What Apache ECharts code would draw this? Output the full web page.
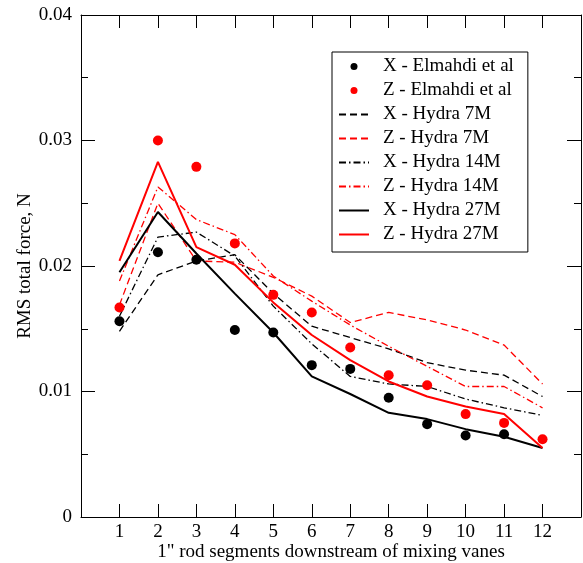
<!DOCTYPE html>
<html>
<head>
<meta charset="utf-8">
<script src="https://cdn.jsdelivr.net/npm/echarts@6/dist/echarts.min.js"></script>
<style>
html,body{margin:0;padding:0;background:#fff;}
#chart{width:583px;height:563px;}
</style>
</head>
<body>
<div id="chart"></div>
<script>
// Segment positions (1" rod segments downstream of mixing vanes)
var segments = [1,2,3,4,5,6,7,8,9,10,11,12];
// Experimental data (Elmahdi et al)
var xElmahdi = [0.0156,0.0211,0.0205,0.0149,0.0147,0.0121,0.0118,0.0095,0.0074,0.0065,0.0066,null];
var zElmahdi = [0.0167,0.0300,0.0279,0.0218,0.0177,0.0163,0.0135,0.0113,0.0105,0.0082,0.0075,0.0062];
// Hydra simulations
var xHydra7M  = [0.0148,0.0193,0.0204,0.0209,0.0178,0.0152,0.0143,0.0134,0.0123,0.0117,0.0113,0.0096];
var zHydra7M  = [0.0169,0.0250,0.0204,0.0203,0.0191,0.0176,0.0155,0.0163,0.0157,0.0149,0.0137,0.0106];
var xHydra14M = [0.0160,0.0223,0.0227,0.0208,0.0168,0.0138,0.0112,0.0106,0.0104,0.0094,0.0087,0.0081];
var zHydra14M = [0.0188,0.0263,0.0237,0.0225,0.0192,0.0172,0.0153,0.0136,0.0120,0.0104,0.0104,0.0087];
var xHydra27M = [0.0195,0.0243,0.0210,0.0178,0.0147,0.0112,0.0098,0.0083,0.0078,0.0070,0.0064,0.0055];
var zHydra27M = [0.0204,0.0283,0.0215,0.0201,0.0171,0.0145,0.0125,0.0108,0.0096,0.0088,0.0082,0.0055];
var yTicks = [0, 0.01, 0.02, 0.03, 0.04];
var legendNames = ['X - Elmahdi et al','Z - Elmahdi et al','X - Hydra 7M','Z - Hydra 7M',
                   'X - Hydra 14M','Z - Hydra 14M','X - Hydra 27M','Z - Hydra 27M'];

function pairs(vals){ return segments.map(function(s,i){ return [s, vals[i]]; }); }

var FONT = "'Liberation Serif','Times New Roman',serif";
var FS = 19;
var chart = echarts.init(document.getElementById('chart'), null, {renderer:'canvas'});

function lineSeries(name, vals, color, type, width){
  return {name:name, type:'line', data:pairs(vals), symbol:'none', showSymbol:false,
    xAxisIndex:0, yAxisIndex:0,
    lineStyle:{color:color, width:width, type:type}, itemStyle:{color:color},
    emphasis:{disabled:true}, animation:false, z:2};
}
function dotSeries(name, vals, color){
  return {name:name, type:'scatter', data:pairs(vals).filter(function(p){return p[1]!=null;}),
    symbol:'circle', symbolSize:10, itemStyle:{color:color, opacity:1},
    xAxisIndex:0, yAxisIndex:0, emphasis:{disabled:true}, animation:false, z:3};
}
var dash = [7,4];
var dashDot = [7,3,1.5,3];

function xAxisCfg(pos, main){
  var a = {type:'value', min:0, max:13, interval:1, position:pos,
    axisLine:{show:true, onZero:false, lineStyle:{color:'#000', width:1}},
    axisTick:{show:true, inside:true, length:13, lineStyle:{color:'#000'}},
    axisLabel:{show:main, color:'#000', fontFamily:FONT, fontSize:FS, margin:6,
      formatter:function(v){ return (v>=1 && v<=12) ? String(v) : ''; }},
    splitLine:{show:false}};
  if(main){
    a.name = '1" rod segments downstream of mixing vanes';
    a.nameLocation = 'middle'; a.nameGap = 26; a.nameMoveOverlap = false;
    a.nameTextStyle = {color:'#000', fontFamily:FONT, fontSize:FS};
  }
  return a;
}
function yAxisCfg(pos, main){
  var a = {type:'value', min:0, max:0.04, interval:0.01, position:pos,
    axisLine:{show:true, onZero:false, lineStyle:{color:'#000', width:1}},
    axisTick:{show:true, inside:true, length:14, lineStyle:{color:'#000'}},
    minorTick:{show:true, splitNumber:2, length:7, lineStyle:{color:'#000'}},
    axisLabel:{show:main, color:'#000', fontFamily:FONT, fontSize:FS, margin:9,
      formatter:function(v){ for(var i=0;i<yTicks.length;i++){ if(Math.abs(v-yTicks[i])<1e-9) return i===0?'0':yTicks[i].toFixed(2);} return ''; }},
    splitLine:{show:false}};
  if(main){
    a.name = 'RMS total force, N';
    a.nameLocation = 'middle'; a.nameGap = 46; a.nameRotate = 90; a.nameMoveOverlap = false;
    a.nameTextStyle = {color:'#000', fontFamily:FONT, fontSize:FS};
  }
  return a;
}

var option = {
  backgroundColor:'#fff',
  animation:false,
  grid:{left:81, right:2, top:15, bottom:46, containLabel:false, outerBoundsMode:'none'},
  xAxis:[ xAxisCfg('bottom', true), xAxisCfg('top', false) ],
  yAxis:[ yAxisCfg('left', true), yAxisCfg('right', false) ],
  legend:{
    orient:'vertical', left:332, top:52,
    padding:[5,14,8,6], itemGap:5, itemWidth:30, itemHeight:7,
    borderColor:'#000', borderWidth:1, backgroundColor:'#fff',
    selectedMode:false,
    textStyle:{color:'#000', fontFamily:FONT, fontSize:FS, padding:[0,0,0,9]},
    data: legendNames.map(function(n, i){
      return i < 2 ? {name:n, itemStyle:{opacity:1}} : {name:n, itemStyle:{opacity:0}};
    })
  },
  series:[
    lineSeries('X - Hydra 7M', xHydra7M, '#000', dash, 1.3),
    lineSeries('Z - Hydra 7M', zHydra7M, '#ff0000', dash, 1.3),
    lineSeries('X - Hydra 14M', xHydra14M, '#000', dashDot, 1.3),
    lineSeries('Z - Hydra 14M', zHydra14M, '#ff0000', dashDot, 1.3),
    lineSeries('X - Hydra 27M', xHydra27M, '#000', 'solid', 2),
    lineSeries('Z - Hydra 27M', zHydra27M, '#ff0000', 'solid', 2),
    dotSeries('X - Elmahdi et al', xElmahdi, '#000'),
    dotSeries('Z - Elmahdi et al', zElmahdi, '#ff0000')
  ]
};
chart.setOption(option);
</script>
</body>
</html>
